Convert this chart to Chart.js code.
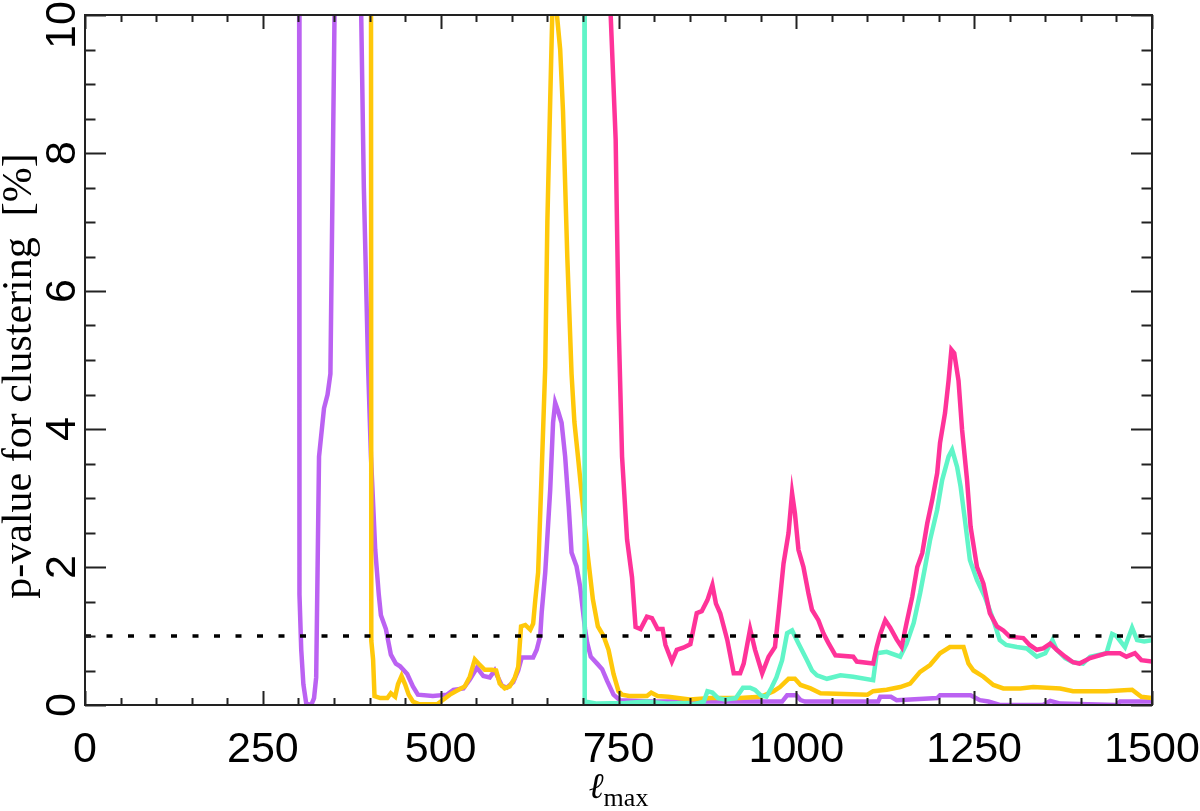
<!DOCTYPE html>
<html>
<head>
<meta charset="utf-8">
<script src="https://cdn.jsdelivr.net/npm/chart.js@4.4.0/dist/chart.umd.min.js"></script>
<style>
  html, body { margin: 0; padding: 0; background: #fff; }
</style>
</head>
<body>
<canvas id="myChart" width="1200" height="811"></canvas>
<script>
// tick values / labels
const xTicks = [0, 250, 500, 750, 1000, 1250, 1500]
const yTicks = [0, 2, 4, 6, 8, 10]
const xMinorStep = 50
const yMinorStep = 0.5
const threshold = [[0, 1], [1500, 1]]

// [lmax, p-value %]
const purple = [[301, 12], [301.5, 1.6], [304, 0.8], [307, 0.3], [311, 0.02], [318, 0], [322, 0.1], [325, 0.4],
    [327, 2.0], [329, 3.6], [331, 3.8], [336, 4.3], [341, 4.5], [345, 4.8], [348, 7.5], [351, 10.2], [354, 13],
    [386, 13], [388, 10.2], [392, 7.5], [395, 6.2], [398, 4.9], [402, 3.6], [408, 2.25], [413, 1.6], [416, 1.3],
    [423, 1.1], [430, 0.73], [437, 0.6], [443, 0.56], [453, 0.45], [461, 0.27], [468, 0.15], [489, 0.13],
    [509, 0.15], [518, 0.22], [532, 0.24], [541, 0.37], [551, 0.54], [560, 0.42], [569, 0.4], [576, 0.5],
    [586, 0.28], [593, 0.25], [602, 0.33], [609, 0.5], [614, 0.69], [630, 0.69], [635, 0.8], [640, 1.0],
    [642, 1.34], [647, 1.92], [654, 3.12], [658, 4.09], [661, 4.38], [665, 4.26], [670, 4.09], [675, 3.6],
    [680, 2.88], [684, 2.21], [691, 2.01], [696, 1.72], [703, 1.1], [706, 0.9], [711, 0.7], [720, 0.6],
    [727, 0.52], [734, 0.35], [743, 0.15], [752, 0.07], [800, 0.05], [980, 0.05], [987, 0.14], [1000, 0.14],
    [1006, 0.07], [1012, 0.05], [1115, 0.05], [1118, 0.12], [1133, 0.12], [1141, 0.07], [1198, 0.1],
    [1202, 0.14], [1245, 0.14], [1258, 0.07], [1270, 0.05], [1286, 0.0], [1347, 0.0], [1357, 0.06],
    [1371, 0.02], [1450, 0.0], [1455, 0.05], [1500, 0.05]]

const yellow = [[402, 12], [402.5, 0.93], [405, 0.66], [407, 0.13], [415, 0.1], [425, 0.1], [430, 0.17],
    [436, 0.12], [440, 0.3], [445, 0.42], [450, 0.3], [455, 0.15], [461, 0.05], [470, 0.01], [495, 0.01],
    [504, 0.08], [513, 0.15], [525, 0.22], [534, 0.27], [541, 0.41], [548, 0.66], [555, 0.58], [562, 0.51],
    [572, 0.51], [578, 0.5], [583, 0.31], [590, 0.24], [597, 0.27], [604, 0.39], [609, 0.55], [613, 1.14],
    [619, 1.16], [626, 1.09], [630, 1.18], [633, 1.52], [637, 1.92], [642, 3.37], [647, 4.9], [650, 7.0],
    [654, 8.77], [657, 10.05], [663, 10.05], [668, 9.5], [672, 8.6], [678, 6.5], [684, 4.8], [688, 4.1],
    [693, 3.6], [700, 2.88], [707, 2.15], [714, 1.53], [721, 1.14], [729, 1.0], [736, 0.8], [743, 0.45],
    [750, 0.2], [755, 0.15], [765, 0.13], [790, 0.13], [796, 0.18], [805, 0.13], [820, 0.12], [850, 0.08],
    [880, 0.1], [920, 0.1], [950, 0.12], [968, 0.2], [977, 0.26], [989, 0.38], [998, 0.38], [1006, 0.29],
    [1020, 0.24], [1034, 0.17], [1100, 0.15], [1108, 0.2], [1127, 0.22], [1146, 0.26], [1160, 0.31],
    [1174, 0.48], [1188, 0.58], [1202, 0.75], [1216, 0.84], [1235, 0.84], [1242, 0.6], [1249, 0.5],
    [1263, 0.41], [1277, 0.29], [1291, 0.24], [1315, 0.24], [1333, 0.26], [1371, 0.24], [1389, 0.2],
    [1436, 0.2], [1472, 0.22], [1485, 0.12], [1500, 0.1]]

const teal = [[702, 12], [702.5, 0.05], [720, 0.02], [760, 0.03], [790, 0.05], [820, 0.02], [848, 0.03],
    [852, 0.0], [870, 0.05], [875, 0.2], [882, 0.18], [890, 0.1], [900, 0.08], [915, 0.1], [925, 0.25],
    [935, 0.25], [942, 0.22], [950, 0.14], [958, 0.12], [965, 0.25], [972, 0.4], [980, 0.65], [987, 1.04],
    [994, 1.08], [1003, 0.89], [1015, 0.65], [1022, 0.5], [1029, 0.43], [1043, 0.38], [1062, 0.43],
    [1080, 0.41], [1108, 0.36], [1113, 0.75], [1127, 0.77], [1146, 0.7], [1155, 0.89], [1165, 1.19],
    [1174, 1.62], [1181, 2.0], [1188, 2.39], [1198, 2.83], [1205, 3.26], [1214, 3.6], [1219, 3.7],
    [1226, 3.45], [1231, 3.16], [1237, 2.68], [1244, 2.1], [1254, 1.81], [1265, 1.57], [1277, 1.23],
    [1286, 0.94], [1295, 0.87], [1310, 0.84], [1324, 0.82], [1338, 0.7], [1350, 0.75], [1360, 0.94],
    [1366, 0.8], [1378, 0.68], [1389, 0.62], [1403, 0.6], [1413, 0.7], [1436, 0.75], [1444, 1.03],
    [1450, 1.0], [1462, 0.84], [1472, 1.12], [1479, 0.94], [1489, 0.92], [1500, 0.94]]

const pink = [[734, 12], [739, 10], [746, 8.2], [750, 5.6], [755, 3.6], [762, 2.4], [769, 1.85], [774, 1.13],
    [781, 1.1], [790, 1.28], [797, 1.26], [805, 1.1], [812, 1.1], [816, 0.87], [825, 0.63], [832, 0.8],
    [841, 0.83], [851, 0.88], [860, 1.33], [867, 1.36], [875, 1.52], [882, 1.74], [887, 1.47], [893, 1.33],
    [903, 0.94], [912, 0.46], [921, 0.46], [926, 0.6], [935, 1.1], [942, 0.8], [952, 0.46], [961, 0.7],
    [970, 0.84], [975, 1.33], [982, 2.05], [989, 2.49], [994, 3.07], [998, 2.78], [1003, 2.25], [1010, 2.0],
    [1017, 1.62], [1022, 1.38], [1031, 1.23], [1038, 1.04], [1045, 0.9], [1055, 0.72], [1080, 0.7],
    [1085, 0.63], [1108, 0.6], [1113, 0.84], [1118, 1.03], [1125, 1.23], [1132, 1.12], [1141, 0.95],
    [1148, 0.84], [1155, 1.19], [1163, 1.57], [1170, 2.0], [1177, 2.2], [1184, 2.63], [1191, 2.97],
    [1198, 3.36], [1202, 3.8], [1209, 4.23], [1214, 4.7], [1218, 5.15], [1222, 5.1], [1228, 4.7],
    [1233, 3.99], [1240, 3.26], [1245, 2.58], [1254, 2.0], [1263, 1.76], [1272, 1.33], [1282, 1.14],
    [1291, 1.08], [1300, 0.99], [1319, 0.97], [1328, 0.87], [1338, 0.8], [1347, 0.82], [1357, 0.89],
    [1366, 0.8], [1378, 0.7], [1389, 0.62], [1398, 0.6], [1413, 0.68], [1436, 0.75], [1455, 0.75],
    [1464, 0.7], [1476, 0.75], [1485, 0.65], [1500, 0.63]]

function toPoints(arr) {
    return arr.map(p => ({ x: p[0], y: p[1] }))
}

function lineSet(arr, color) {
    return {
        data: toPoints(arr),
        borderColor: color,
        borderWidth: 4.5,
        pointRadius: 0,
        tension: 0,
        clip: 0
    }
}

// frame, inward ticks on all four sides, labels and axis titles
const framePlugin = {
    id: 'frame',
    afterDraw(chart) {
        const ctx = chart.ctx
        const a = chart.chartArea
        const xs = chart.scales.x
        const ys = chart.scales.y
        ctx.save()
        ctx.strokeStyle = '#222'
        ctx.lineWidth = 2
        ctx.strokeRect(a.left, a.top, a.right - a.left, a.bottom - a.top)

        ctx.beginPath()
        for (let v = 0; v <= 1500; v += xMinorStep) {
            const px = Math.round(xs.getPixelForValue(v)) + 0.5
            const len = xTicks.includes(v) ? 14 : 7
            ctx.moveTo(px, a.bottom); ctx.lineTo(px, a.bottom - len)
            ctx.moveTo(px, a.top); ctx.lineTo(px, a.top + len)
        }
        for (let v = 0; v <= 10; v += yMinorStep) {
            const py = Math.round(ys.getPixelForValue(v)) + 0.5
            const len = yTicks.includes(v) ? 21 : 10.5
            ctx.moveTo(a.left, py); ctx.lineTo(a.left + len, py)
            ctx.moveTo(a.right, py); ctx.lineTo(a.right - len, py)
        }
        ctx.stroke()

        ctx.fillStyle = '#000'
        ctx.font = '43px "Liberation Sans", Arial, sans-serif'
        ctx.textAlign = 'center'
        ctx.textBaseline = 'alphabetic'
        xTicks.forEach(v => {
            ctx.fillText(String(v), xs.getPixelForValue(v), 762)
        })
        yTicks.forEach(v => {
            ctx.save()
            // keep the top label inside the canvas
            ctx.translate(75, Math.max(ys.getPixelForValue(v), 25))
            ctx.rotate(-Math.PI / 2)
            ctx.fillText(String(v), 0, 0)
            ctx.restore()
        })

        // y title
        ctx.save()
        ctx.translate(31, 376)
        ctx.rotate(-Math.PI / 2)
        ctx.font = '42px "Liberation Serif", "DejaVu Serif", serif'
        ctx.fillText('p-value for clustering  [%]', 0, 0)
        ctx.restore()

        // x title: l_max
        ctx.textAlign = 'left'
        ctx.font = 'italic 36px "DejaVu Serif", "Liberation Serif", serif'
        const lw = ctx.measureText('\u2113').width
        ctx.font = '26px "Liberation Serif", "DejaVu Serif", serif'
        const mw = ctx.measureText('max').width
        const x0 = xs.getPixelForValue(750) - (lw + mw) / 2
        ctx.font = 'italic 36px "DejaVu Serif", "Liberation Serif", serif'
        ctx.fillText('\u2113', x0, 798)
        ctx.font = '26px "Liberation Serif", "DejaVu Serif", serif'
        ctx.fillText('max', x0 + lw, 806)
        ctx.restore()
    }
}

new Chart('myChart', {
    type: 'line',
    data: {
        datasets: [
            {
                data: toPoints(threshold),
                borderColor: '#000',
                borderWidth: 3.5,
                borderDash: [6, 15.5],
                pointRadius: 0,
                clip: 0
            },
            lineSet(pink, '#ff3399'),
            lineSet(teal, '#60f5c8'),
            lineSet(yellow, '#ffc80a'),
            lineSet(purple, '#bb62f2')
        ]
    },
    options: {
        responsive: false,
        animation: false,
        layout: { padding: { left: 85, right: 48, top: 15, bottom: 106 } },
        plugins: { legend: { display: false }, tooltip: { enabled: false } },
        scales: {
            x: { type: 'linear', min: 0, max: 1500, display: false },
            y: { type: 'linear', min: 0, max: 10, display: false }
        }
    },
    plugins: [framePlugin]
})
</script>
</body>
</html>
